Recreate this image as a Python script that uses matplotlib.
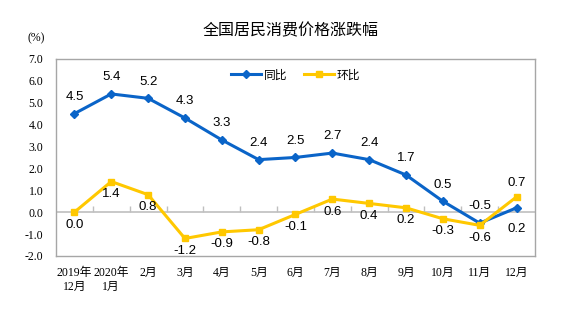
import matplotlib
matplotlib.use("Agg")
import matplotlib.pyplot as plt
import numpy as np

plt.rcParams['font.family'] = ['Liberation Serif', 'Noto Sans CJK SC']

months = ['2019年\n12月', '2020年\n1月', '2月', '3月', '4月', '5月', '6月',
          '7月', '8月', '9月', '10月', '11月', '12月']
yoy = [4.5, 5.4, 5.2, 4.3, 3.3, 2.4, 2.5, 2.7, 2.4, 1.7, 0.5, -0.5, 0.2]
mom = [0.0, 1.4, 0.8, -1.2, -0.9, -0.8, -0.1, 0.6, 0.4, 0.2, -0.3, -0.6, 0.7]

# label above (+1) or below (-1) the point
yoy_side = [1] * 12 + [-1]
mom_side = [-1] * 12 + [1]

blue = '#0A64C8'
yellow = '#FFC800'
sans = ['Liberation Sans', 'Noto Sans CJK SC']

fig = plt.figure(figsize=(5.82, 3.21), dpi=100)
ax = fig.add_axes([0.0962, 0.2025, 0.823, 0.614])
x = np.arange(len(months))

ax.plot(x, yoy, color=blue, lw=2.2, marker='D', ms=4, label='同比', zorder=3)
ax.plot(x, mom, color=yellow, lw=2.2, marker='s', ms=4, label='环比', zorder=3)

for xi, v, s in zip(x, yoy, yoy_side):
    off = 12 if s > 0 else -15
    ax.annotate(f'{v:.1f}', (xi, v), xytext=(0, off), textcoords='offset points',
                ha='center', va='center', fontsize=9.5, family=sans)
for xi, v, s in zip(x, mom, mom_side):
    off = 10 if s > 0 else -9
    ax.annotate(f'{v:.1f}', (xi, v), xytext=(0, off), textcoords='offset points',
                ha='center', va='center', fontsize=9.5, family=sans)

ax.set_xlim(-0.5, len(months) - 0.5)
ax.set_ylim(-2, 7)
ax.set_yticks(np.arange(-2, 7.1, 1))
ax.set_yticklabels([f'{t:.1f}' for t in np.arange(-2, 7.1, 1)], fontsize=8.5)
ax.set_xticks(x)
ax.set_xticklabels(months, fontsize=8.5, linespacing=1.25)
ax.tick_params(axis='both', length=0)
ax.tick_params(axis='y', pad=9)
ax.tick_params(axis='x', pad=8)
for sp in ax.spines.values():
    sp.set_color('#A6A6A6')
    sp.set_linewidth(1)

# zero line with boundary ticks
ax.axhline(0, color='#BFBFBF', lw=1.2, zorder=1)
zero = ax.secondary_xaxis((0 - (-2)) / (7 - (-2)))
zero.set_xticks(np.arange(0.5, len(months) - 1, 1))
zero.set_xticklabels([])
zero.tick_params(direction='in', length=4, color='#BFBFBF', width=1)
zero.spines['bottom'].set_visible(False)

leg = ax.legend(loc='upper center', ncol=2, frameon=False,
                bbox_to_anchor=(0.5, 1.0), handlelength=2.6, handletextpad=0.2,
                columnspacing=1.4, prop={'family': sans, 'size': 8.5})

fig.text(0.5, 0.905, '全国居民消费价格涨跌幅', ha='center', va='center',
         fontsize=11.5, family=sans)
fig.text(0.063, 0.88, '(%)', ha='center', va='center', fontsize=8.5)

fig.savefig('out.png', dpi=100)
